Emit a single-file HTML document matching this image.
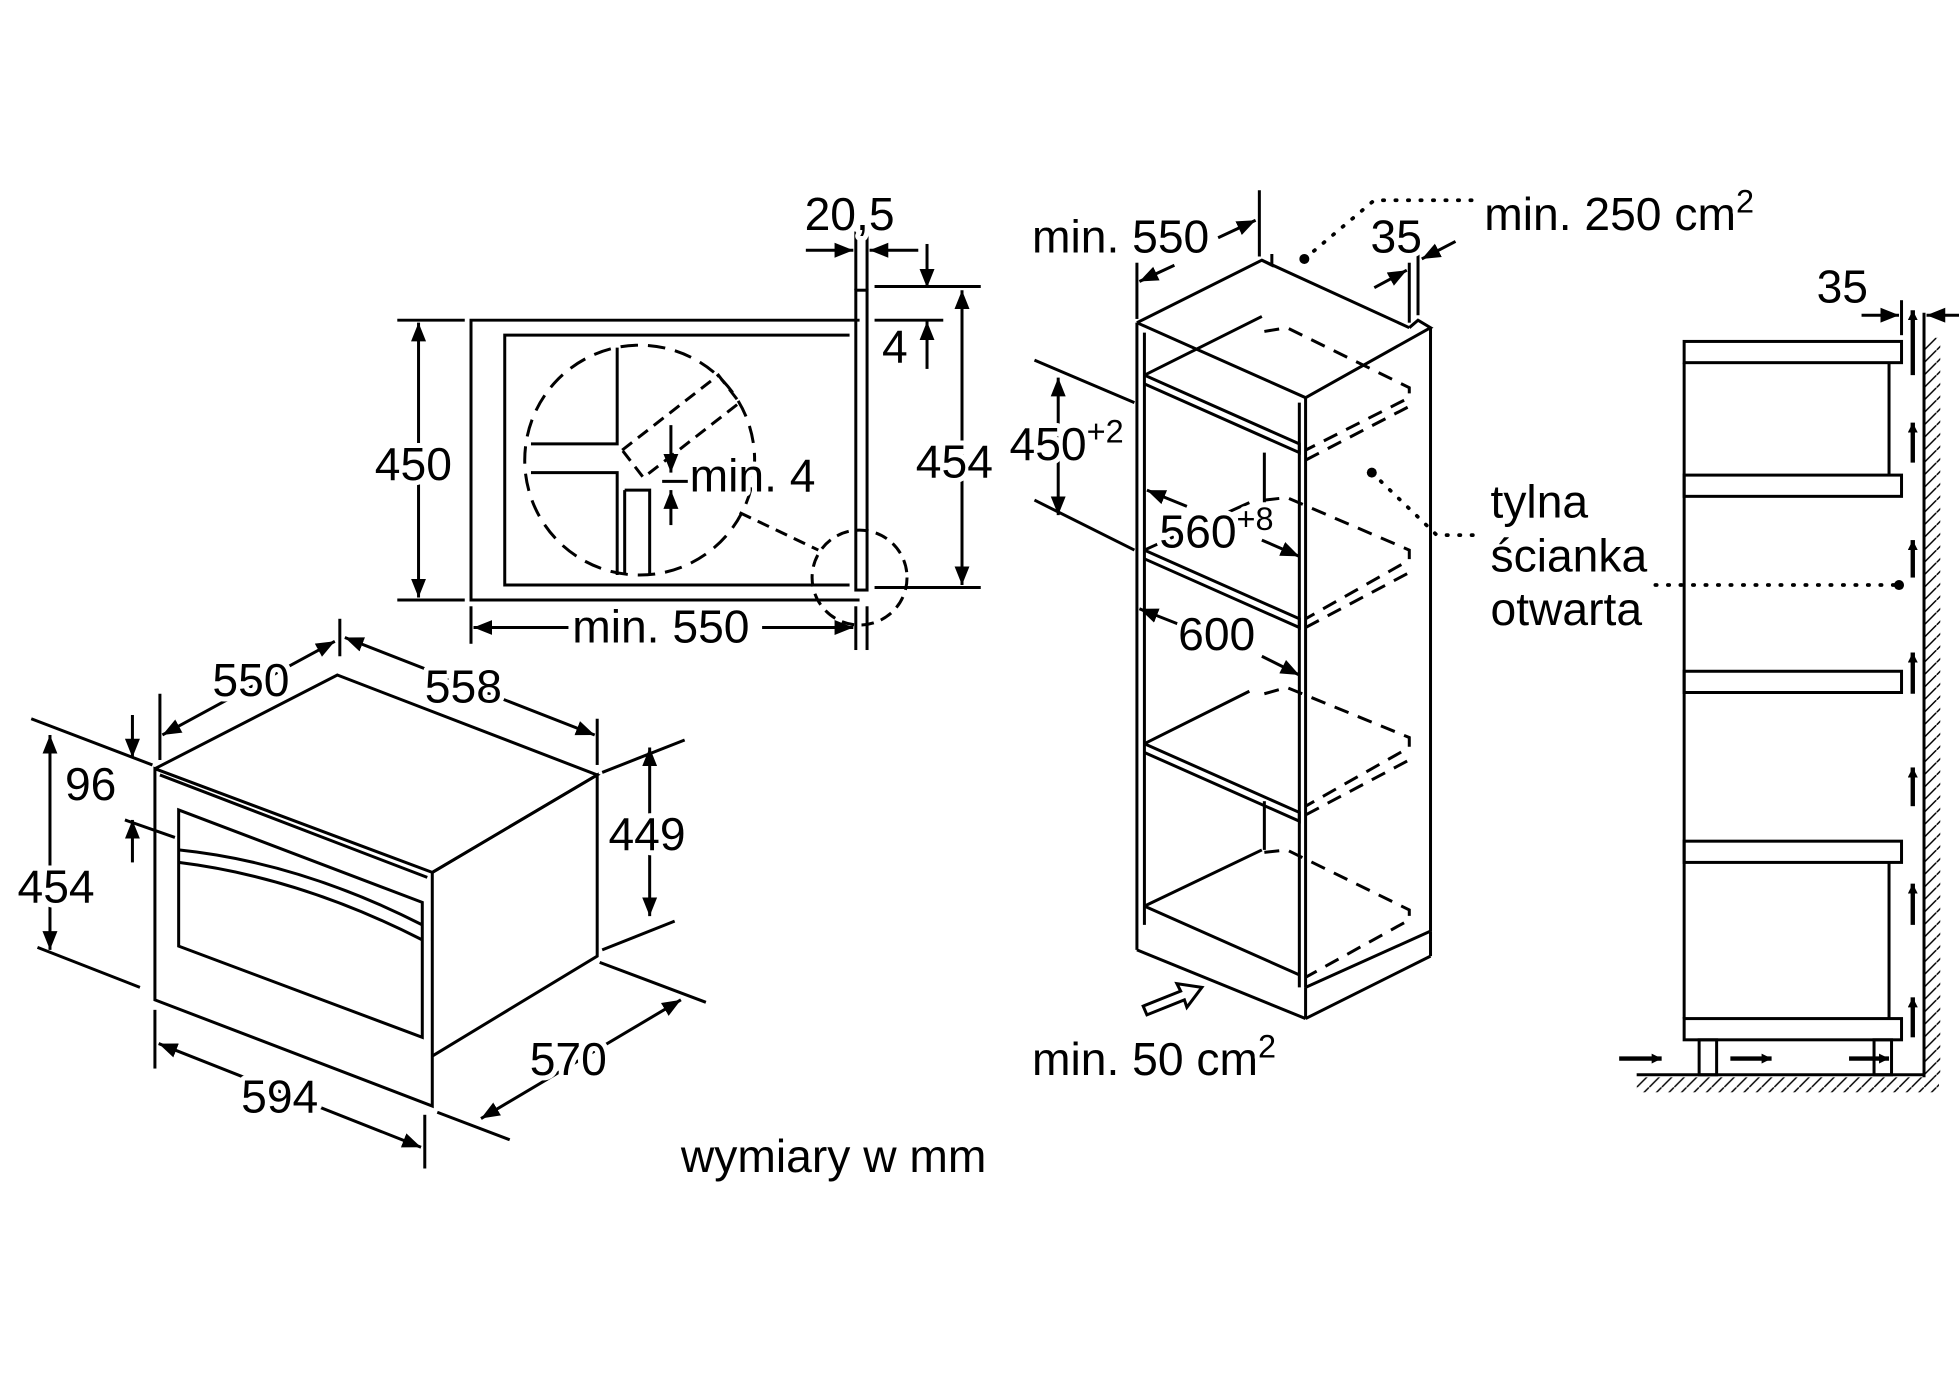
<!DOCTYPE html>
<html><head><meta charset="utf-8"><style>
html,body{margin:0;padding:0;background:#fff;width:1959px;height:1375px;overflow:hidden}
svg{display:block}
text{font-family:"Liberation Sans",sans-serif;font-size:37px;fill:#000;stroke:#fff;stroke-width:8px;paint-order:stroke;stroke-linejoin:round}
</style></head><body>
<svg width="1959" height="1375" viewBox="0 0 1568 1100" xmlns="http://www.w3.org/2000/svg">
<defs>
<marker id="a" viewBox="0 0 10 10" refX="10" refY="5" markerWidth="8" markerHeight="8" orient="auto-start-reverse" markerUnits="userSpaceOnUse"><path d="M0,0L10,5L0,10z"/></marker>
<marker id="b" viewBox="0 0 10 10" refX="10" refY="5" markerWidth="15" markerHeight="15" orient="auto-start-reverse" markerUnits="userSpaceOnUse"><path d="M0,1L10,5L0,9z"/></marker>
<pattern id="h" width="10" height="10" patternUnits="userSpaceOnUse"><path d="M0,10L10,0" stroke="#000" stroke-width="1.2"/></pattern>
</defs>
<g fill="none" stroke="#000" stroke-width="2.4">
<polygon points="124,615 346,698 346,885 124,800"/>
<polygon points="128,620 342,702"/>
<polyline points="124,615 270,540 478,620 346,698"/>
<polyline points="346,698 478,620 478,765 346,845"/>
<polygon points="143,648 338,722 338,830 143,757"/>
<path d="M143,680 Q240,690 338,740 M143,690 Q240,702 338,752"/>
<line x1="130" y1="588" x2="268" y2="513" marker-start="url(#b)" marker-end="url(#b)"/>
<line x1="272" y1="495" x2="272" y2="525"/><line x1="128" y1="555" x2="128" y2="608"/>
<line x1="276" y1="510" x2="476" y2="588" marker-start="url(#b)" marker-end="url(#b)"/>
<line x1="478" y1="575" x2="478" y2="612"/>
<line x1="40" y1="588" x2="40" y2="760" marker-start="url(#b)" marker-end="url(#b)"/>
<line x1="25" y1="575" x2="122" y2="612"/><line x1="30" y1="758" x2="112" y2="790"/>
<line x1="106" y1="572" x2="106" y2="606" marker-end="url(#b)"/>
<line x1="106" y1="690" x2="106" y2="656" marker-end="url(#b)"/>
<line x1="100" y1="656" x2="140" y2="670"/>
<line x1="520" y1="598" x2="520" y2="733" marker-start="url(#b)" marker-end="url(#b)"/>
<line x1="482" y1="618" x2="548" y2="592"/><line x1="482" y1="760" x2="540" y2="737"/>
<line x1="385" y1="895" x2="545" y2="800" marker-start="url(#b)" marker-end="url(#b)"/>
<line x1="350" y1="890" x2="408" y2="912"/><line x1="480" y1="770" x2="565" y2="802"/>
<line x1="127" y1="835" x2="337" y2="918" marker-start="url(#b)" marker-end="url(#b)"/>
<line x1="124" y1="808" x2="124" y2="855"/><line x1="340" y1="892" x2="340" y2="935"/>
<polyline points="688,256 377,256 377,480 688,480"/>
<polyline points="680,268 404,268 404,468 680,468"/>
<rect x="685" y="232" width="9" height="240"/>
<line x1="685" y1="485" x2="685" y2="520"/><line x1="694" y1="485" x2="694" y2="520"/>
<circle cx="512" cy="368" r="92" stroke-dasharray="14,8"/>
<circle cx="688" cy="462" r="38" stroke-dasharray="10,6"/>
<line x1="592" y1="410" x2="655" y2="440" stroke-dasharray="10,6"/>
<path d="M494,278 V355 H425 M425,378 H494 V460 M500,392 H520 V460 M500,392 V460"/>
<path d="M498,360 L575,300 L592,322 L515,382 Z" stroke-dasharray="10,6"/>
<line x1="537" y1="340" x2="537" y2="378" marker-end="url(#b)"/>
<line x1="537" y1="420" x2="537" y2="392" marker-end="url(#b)"/>
<line x1="530" y1="385" x2="555" y2="385"/>
<line x1="335" y1="258" x2="335" y2="478" marker-start="url(#b)" marker-end="url(#b)"/>
<line x1="318" y1="256" x2="372" y2="256"/><line x1="318" y1="480" x2="372" y2="480"/>
<line x1="770" y1="232" x2="770" y2="468" marker-start="url(#b)" marker-end="url(#b)"/>
<line x1="700" y1="229" x2="785" y2="229"/><line x1="700" y1="470" x2="785" y2="470"/>
<line x1="379" y1="502" x2="455" y2="502" marker-start="url(#b)"/>
<line x1="610" y1="502" x2="683" y2="502" marker-end="url(#b)"/>
<line x1="377" y1="485" x2="377" y2="515"/>
<line x1="685" y1="185" x2="685" y2="232"/><line x1="694" y1="185" x2="694" y2="232"/>
<line x1="645" y1="200" x2="683" y2="200" marker-end="url(#b)"/>
<line x1="735" y1="200" x2="696" y2="200" marker-end="url(#b)"/>
<line x1="742" y1="195" x2="742" y2="230" marker-end="url(#b)"/>
<line x1="742" y1="295" x2="742" y2="257" marker-end="url(#b)"/>
<line x1="700" y1="256" x2="755" y2="256"/>
<polyline points="910,258 1010,208 1018,212 1018,203"/>
<line x1="1010" y1="208" x2="1128" y2="262"/>
<polyline points="1128,262 1135,256 1145,262 1045,318 910,258"/>
<line x1="910" y1="258" x2="910" y2="760"/><line x1="916" y1="266" x2="916" y2="740"/>
<line x1="1045" y1="318" x2="1045" y2="790"/><line x1="1040" y1="322" x2="1040" y2="790"/>
<line x1="1145" y1="262" x2="1145" y2="745"/>
<line x1="1145" y1="745" x2="1045" y2="790"/>
<line x1="1045" y1="790" x2="1045" y2="815"/><line x1="1045" y1="815" x2="1145" y2="765"/><line x1="1145" y1="745" x2="1145" y2="765"/>
<line x1="910" y1="760" x2="1045" y2="815"/>
<polyline points="916,300 1040,355 1040,362 916,307"/><line x1="916" y1="300" x2="1010" y2="253"/>
<polyline points="916,440 1040,495 1040,502 916,447"/><line x1="916" y1="440" x2="1000" y2="402"/>
<polyline points="916,595 1040,650 1040,657 916,602"/><line x1="916" y1="595" x2="1000" y2="553"/>
<line x1="916" y1="725" x2="1040" y2="780"/><line x1="916" y1="725" x2="1010" y2="680"/>
<line x1="1012" y1="362" x2="1012" y2="402"/><line x1="1012" y1="641" x2="1012" y2="680"/>
<g stroke-dasharray="12,8">
<polyline points="1012,265 1030,262 1128,310 1128,318 1045,360"/><line x1="1045" y1="368" x2="1128" y2="325"/>
<polyline points="1012,400 1030,398 1128,440 1128,448 1045,495"/><line x1="1045" y1="502" x2="1128" y2="458"/>
<polyline points="1012,555 1030,550 1128,590 1128,598 1045,645"/><line x1="1045" y1="652" x2="1128" y2="608"/>
<polyline points="1012,682 1030,680 1128,728 1128,736 1045,782"/>
</g>
<line x1="910" y1="210" x2="910" y2="255"/><line x1="1008" y1="152" x2="1008" y2="205"/>
<line x1="912" y1="225" x2="940" y2="212" marker-start="url(#b)"/>
<line x1="975" y1="190" x2="1005" y2="176" marker-end="url(#b)"/>
<line x1="1128" y1="210" x2="1128" y2="258"/><line x1="1135" y1="200" x2="1135" y2="252"/>
<line x1="1100" y1="230" x2="1126" y2="216" marker-end="url(#b)"/>
<line x1="1165" y1="193" x2="1138" y2="207" marker-end="url(#b)"/>
<line x1="847" y1="302" x2="847" y2="412" marker-start="url(#b)" marker-end="url(#b)"/>
<line x1="828" y1="288" x2="908" y2="322"/><line x1="828" y1="400" x2="908" y2="440"/>
<line x1="918" y1="392" x2="950" y2="405" marker-start="url(#b)"/>
<line x1="1010" y1="432" x2="1040" y2="445" marker-end="url(#b)"/>
<line x1="912" y1="487" x2="945" y2="500" marker-start="url(#b)"/>
<line x1="1010" y1="525" x2="1040" y2="540" marker-end="url(#b)"/>
<path d="M915,805 L945,793 L942,787 L962,790 L950,806 L948,800 L918,812 Z"/>
<rect x="1348" y="273" width="174" height="17"/>
<rect x="1348" y="380" width="174" height="17"/>
<rect x="1348" y="537" width="174" height="17"/>
<rect x="1348" y="673" width="174" height="17"/>
<rect x="1348" y="815" width="174" height="17"/>
<line x1="1348" y1="290" x2="1348" y2="815"/>
<line x1="1512" y1="290" x2="1512" y2="380"/><line x1="1512" y1="690" x2="1512" y2="815"/>
<rect x="1360" y="832" width="14" height="28"/><rect x="1500" y="832" width="14" height="28"/>
<line x1="1540" y1="250" x2="1540" y2="862"/><line x1="1310" y1="860" x2="1540" y2="860"/>
<line x1="1522" y1="240" x2="1522" y2="268"/>
<line x1="1490" y1="252" x2="1520" y2="252" marker-end="url(#b)"/>
<line x1="1568" y1="252" x2="1542" y2="252" marker-end="url(#b)"/>
</g>
<rect x="1541" y="270" width="12" height="592" fill="url(#h)"/>
<rect x="1310" y="862" width="242" height="12" fill="url(#h)"/>
<g stroke="#000" stroke-width="3.5" fill="none">
<line x1="1531" y1="300" x2="1531" y2="248" marker-end="url(#a)"/>
<line x1="1531" y1="370" x2="1531" y2="338" marker-end="url(#a)"/>
<line x1="1531" y1="462" x2="1531" y2="432" marker-end="url(#a)"/>
<line x1="1531" y1="555" x2="1531" y2="522" marker-end="url(#a)"/>
<line x1="1531" y1="645" x2="1531" y2="614" marker-end="url(#a)"/>
<line x1="1531" y1="740" x2="1531" y2="707" marker-end="url(#a)"/>
<line x1="1531" y1="830" x2="1531" y2="798" marker-end="url(#a)"/>
<line x1="1296" y1="847" x2="1330" y2="847" marker-end="url(#a)"/>
<line x1="1385" y1="847" x2="1418" y2="847" marker-end="url(#a)"/>
<line x1="1480" y1="847" x2="1512" y2="847" marker-end="url(#a)"/>
</g>
<g fill="#000">
<g stroke="#000" stroke-width="3" stroke-dasharray="1,9" stroke-linecap="round" fill="none">
<polyline points="1044,207 1100,160 1180,160"/>
<polyline points="1098,378 1150,428 1185,428"/>
<line x1="1325" y1="468" x2="1520" y2="468"/>
</g>
<circle cx="1044" cy="207" r="4"/><circle cx="1098" cy="378" r="4"/><circle cx="1520" cy="468" r="4"/>
</g>
<text x="170" y="557">550</text>
<text x="340" y="562">558</text>
<text x="52" y="640">96</text>
<text x="14" y="722">454</text>
<text x="487" y="680">449</text>
<text x="424" y="860">570</text>
<text x="193" y="890">594</text>
<text x="300" y="384">450</text>
<text x="733" y="382">454</text>
<text x="458" y="514">min. 550</text>
<text x="644" y="184">20,5</text>
<text x="706" y="290">4</text>
<text x="552" y="393">min. 4</text>
<text x="826" y="202">min. 550</text>
<text x="1097" y="202">35</text>
<text x="1188" y="184">min. 250 cm<tspan dy="-14" font-size="26">2</tspan></text>
<text x="808" y="368">450<tspan dy="-14" font-size="26">+2</tspan></text>
<text x="928" y="438">560<tspan dy="-14" font-size="26">+8</tspan></text>
<text x="943" y="520">600</text>
<text x="826" y="860">min. 50 cm<tspan dy="-14" font-size="26">2</tspan></text>
<text x="1193" y="414">tylna</text>
<text x="1193" y="457">ścianka</text>
<text x="1193" y="500">otwarta</text>
<text x="1454" y="242">35</text>
<text x="545" y="938">wymiary w mm</text>
</svg>
</body></html>
